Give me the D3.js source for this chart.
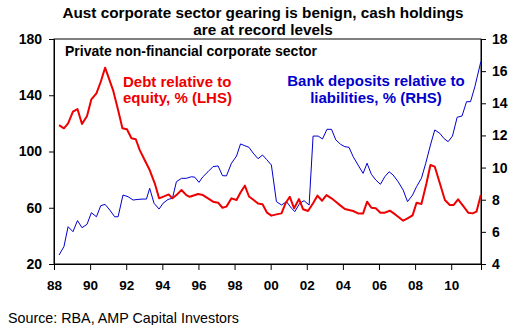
<!DOCTYPE html>
<html>
<head>
<meta charset="utf-8">
<script src="https://d3js.org/d3.v7.min.js"></script>
<style>
  body { margin: 0; background: #fff; }
  text { font-family: Arial, "Liberation Sans", sans-serif; }
</style>
</head>
<body>
<svg id="chart" width="518" height="325"></svg>
<script>
// debt relative to equity, % (LHS) - decimal year / value
const debtYears = [1988.28, 1988.55, 1988.78, 1989.05, 1989.30, 1989.55, 1989.83, 1990.07, 1990.35, 1990.59,
  1990.83, 1991.27, 1991.55, 1991.79, 1992.04, 1992.29, 1992.53, 1992.75, 1993.02, 1993.30,
  1993.58, 1993.82, 1994.13, 1994.35, 1994.56, 1994.78, 1995.06, 1995.33, 1995.52, 1995.98,
  1996.25, 1996.53, 1996.81, 1997.09, 1997.33, 1997.55, 1997.83, 1998.11, 1998.33, 1998.57,
  1998.80, 1999.06, 1999.30, 1999.55, 1999.80, 2000.04, 2000.32, 2000.60, 2000.84, 2001.06,
  2001.30, 2001.57, 2001.80, 2002.07, 2002.35, 2002.59, 2002.85, 2003.09, 2003.37, 2003.61,
  2003.87, 2004.11, 2004.34, 2004.57, 2004.84, 2005.12, 2005.34, 2005.58, 2005.82, 2006.08,
  2006.32, 2006.60, 2006.82, 2007.06, 2007.34, 2007.58, 2007.86, 2008.08, 2008.35, 2008.63,
  2008.85, 2009.09, 2009.37, 2009.65, 2009.92, 2010.14, 2010.38, 2010.66, 2010.94, 2011.18,
  2011.40, 2011.64];
const debt = [118.8, 116.5, 120, 128.3, 130.2, 119.5, 125.2, 137.1, 141.4, 149.6,
  159.6, 143.7, 129.5, 116.5, 115.8, 109.4, 108.7, 101, 94, 86.8,
  77.4, 66.7, 68.3, 69.5, 66.7, 69, 72.6, 69, 67.8, 69.8,
  69, 66.7, 64.3, 63.6, 60, 60.8, 66.7, 65.5, 70.8, 75.7,
  68, 65.5, 63, 62.5, 56.5, 54.4, 55.3, 56, 63.6, 67.8,
  59.6, 66.2, 58.9, 57.7, 63.2, 68.6, 65, 69, 66.7, 64.3,
  61.5, 59.1, 58.4, 57.7, 56, 56, 64.3, 60, 59.6, 56.5,
  56.5, 57.9, 56, 53.6, 50.8, 52.5, 54.6, 63.6, 62.7, 77.4,
  90.4, 89.2, 77.4, 65.5, 62, 62, 66, 61.3, 56.5, 56,
  57.2, 69];

// bank deposits relative to liabilities, % (RHS)
const depYears = [1988.28, 1988.55, 1988.78, 1989.05, 1989.30, 1989.55, 1989.83, 1990.07, 1990.35, 1990.59,
  1990.83, 1991.09, 1991.36, 1991.55, 1991.82, 1992.10, 1992.38, 1992.65, 1992.93, 1993.12,
  1993.30, 1993.54, 1993.82, 1994.04, 1994.32, 1994.56, 1994.78, 1995.06, 1995.33, 1995.61,
  1995.80, 1996.03, 1996.25, 1996.53, 1996.81, 1997.09, 1997.33, 1997.55, 1997.83, 1998.11,
  1998.33, 1998.57, 1998.80, 1999.03, 1999.30, 1999.55, 1999.77, 2000.04, 2000.32, 2000.60,
  2000.88, 2001.15, 2001.34, 2001.61, 2001.85, 2002.13, 2002.35, 2002.63, 2002.87, 2003.12,
  2003.37, 2003.61, 2003.87, 2004.11, 2004.34, 2004.57, 2004.84, 2005.12, 2005.34, 2005.58,
  2005.82, 2006.08, 2006.32, 2006.56, 2006.78, 2007.06, 2007.34, 2007.58, 2007.86, 2008.08,
  2008.35, 2008.59, 2008.85, 2009.09, 2009.37, 2009.59, 2009.83, 2010.07, 2010.33, 2010.60,
  2010.85, 2011.07, 2011.31, 2011.64];
const deposits = [4.56, 5.08, 6.32, 6.01, 6.7, 6.26, 6.47, 7.19, 6.94, 7.63,
  7.71, 7.36, 6.94, 6.94, 8.29, 8.19, 7.98, 8.02, 8.04, 8.04,
  8.71, 7.78, 7.42, 7.78, 8.02, 8.09, 9.12, 9.33, 9.33, 9.43,
  9.4, 9.08, 9.43, 9.74, 10.06, 10.1, 9.5, 9.48, 10.27, 10.72,
  11.47, 11.36, 11.26, 10.9, 10.55, 10.78, 10.51, 10.16, 7.88, 7.67,
  7.88, 7.47, 7.26, 7.78, 7.94, 7.67, 11.96, 11.96, 11.78, 12.38,
  12.38, 11.72, 11.45, 11.3, 11.26, 10.68, 10.16, 9.64, 10.27, 9.58,
  9.23, 8.96, 9.43, 9.74, 9.54, 9.12, 8.6, 7.88, 8.29, 8.81,
  9.33, 10.27, 11.4, 12.34, 12.13, 11.82, 11.61, 11.96, 13.13, 13.21,
  14.1, 14.1, 15.03, 16.59];

const leftTicks = [20, 60, 100, 140, 180];
const rightTicks = [4, 6, 8, 10, 12, 14, 16, 18];
const yearTicks = [1988, 1990, 1992, 1994, 1996, 1998, 2000, 2002, 2004, 2006, 2008, 2010];

const red = "#ee0000";
const blue = "#0000cc";

var plotLeft = 54, plotRight = 481, plotTop = 39, plotBottom = 264;

var svg = d3.select("#chart");

var x = d3.scaleLinear().domain([1988, 2011.65]).range([plotLeft, plotRight]);
var yL = d3.scaleLinear().domain([20, 180]).range([plotBottom, plotTop]);
var yR = d3.scaleLinear().domain([4, 18]).range([plotBottom, plotTop]);

// frame
svg.append("rect")
  .attr("x", plotLeft).attr("y", plotTop)
  .attr("width", plotRight - plotLeft).attr("height", plotBottom - plotTop)
  .attr("fill", "none").attr("stroke", "#000").attr("stroke-width", 1);

// left axis
var gl = svg.append("g")
  .attr("transform", "translate(" + plotLeft + ",0)")
  .call(d3.axisLeft(yL).tickValues(leftTicks).tickSize(5).tickPadding(7));

// right axis
var gr = svg.append("g")
  .attr("transform", "translate(" + plotRight + ",0)")
  .call(d3.axisRight(yR).tickValues(rightTicks).tickSize(5).tickPadding(6));

// bottom axis
var gb = svg.append("g")
  .attr("transform", "translate(0," + plotBottom + ")")
  .call(d3.axisBottom(x).tickValues(yearTicks).tickSize(6).tickPadding(10)
    .tickFormat(d => String(d).slice(2)));

[gl, gr, gb].forEach(function(g) {
  g.select(".domain").attr("stroke", "#000");
  g.selectAll(".tick line").attr("stroke", "#000");
  g.selectAll(".tick text")
    .attr("fill", "#000")
    .style("font-size", "14px")
    .style("font-weight", "bold")
    .style("font-family", "Arial, 'Liberation Sans', sans-serif");
});
gb.selectAll(".tick text").style("font-size", "13.5px");

// lines
var debtData = debtYears.map((d, i) => [d, debt[i]]);
var depData = depYears.map((d, i) => [d, deposits[i]]);

svg.append("path")
  .datum(depData)
  .attr("fill", "none")
  .attr("stroke", blue)
  .attr("stroke-width", 1)
  .attr("d", d3.line().x(d => x(d[0])).y(d => yR(d[1])));

svg.append("path")
  .datum(debtData)
  .attr("fill", "none")
  .attr("stroke", red)
  .attr("stroke-width", 2)
  .attr("stroke-linejoin", "round")
  .attr("d", d3.line().x(d => x(d[0])).y(d => yL(d[1])));

// title
svg.append("text")
  .attr("x", 263).attr("y", 18)
  .attr("text-anchor", "middle")
  .style("font-size", "15.3px").style("font-weight", "bold")
  .text("Aust corporate sector gearing is benign, cash holdings");
svg.append("text")
  .attr("x", 263).attr("y", 35)
  .attr("text-anchor", "middle")
  .style("font-size", "15.3px").style("font-weight", "bold")
  .text("are at record levels");

svg.append("text")
  .attr("x", 65).attr("y", 56)
  .style("font-size", "14px").style("font-weight", "bold")
  .text("Private non-financial corporate sector");

// series labels
svg.append("text")
  .attr("x", 123).attr("y", 87)
  .attr("fill", red)
  .style("font-size", "15px").style("font-weight", "bold")
  .text("Debt relative to");
svg.append("text")
  .attr("x", 123).attr("y", 103)
  .attr("fill", red)
  .style("font-size", "15px").style("font-weight", "bold")
  .text("equity, % (LHS)");

svg.append("text")
  .attr("x", 376).attr("y", 86)
  .attr("text-anchor", "middle")
  .attr("fill", blue)
  .style("font-size", "15px").style("font-weight", "bold")
  .text("Bank deposits relative to");
svg.append("text")
  .attr("x", 376).attr("y", 103)
  .attr("text-anchor", "middle")
  .attr("fill", blue)
  .style("font-size", "15px").style("font-weight", "bold")
  .text("liabilities, % (RHS)");

// source
svg.append("text")
  .attr("x", 8).attr("y", 323)
  .style("font-size", "14.3px")
  .text("Source: RBA, AMP Capital Investors");
</script>
</body>
</html>
